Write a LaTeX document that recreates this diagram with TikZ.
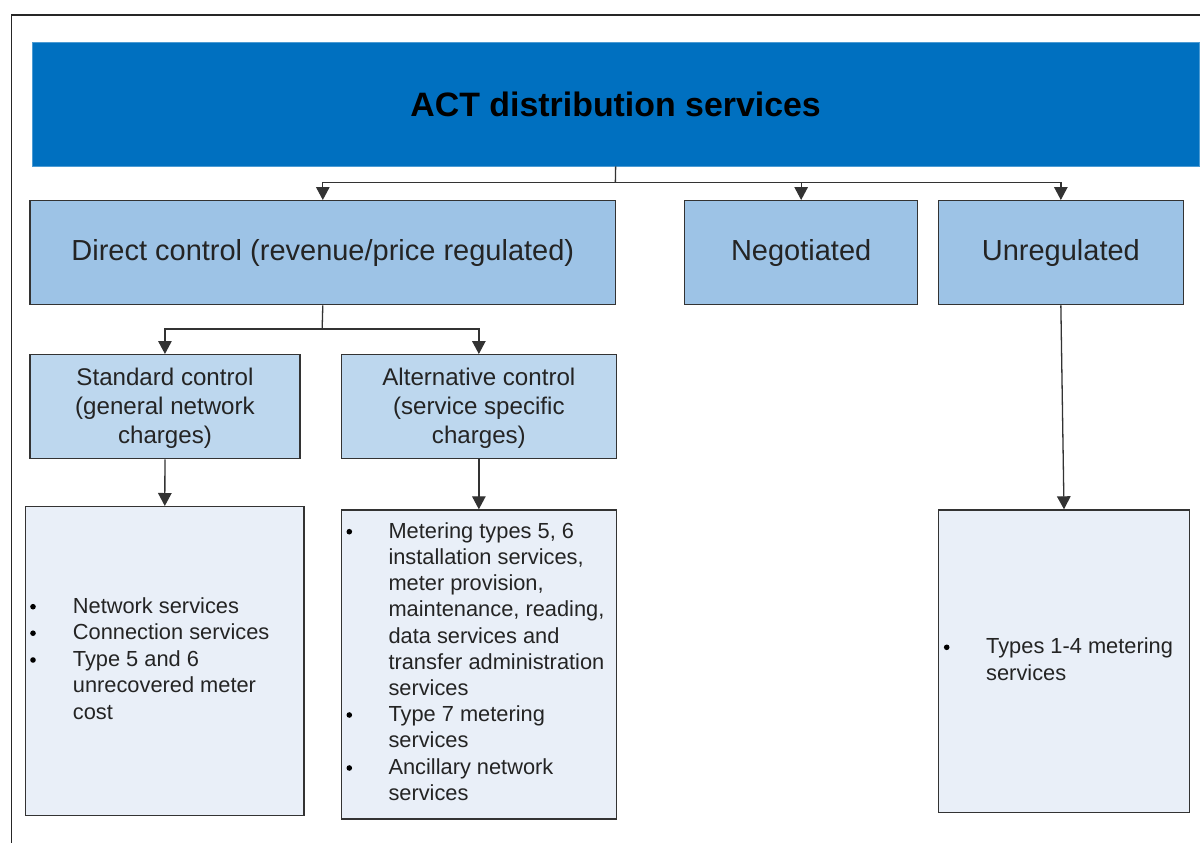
\documentclass[tikz,border=0pt]{standalone}
\usepackage{fontspec}
\setmainfont{Liberation Sans}
\usetikzlibrary{arrows.meta,calc}
\definecolor{topblue}{HTML}{0070C0}
\definecolor{lvltwo}{HTML}{9DC3E6}
\definecolor{lvlthree}{HTML}{BDD7EE}
\definecolor{lvlfour}{HTML}{E9EFF8}
\definecolor{edge}{HTML}{333333}
\definecolor{txt}{HTML}{242424}
\newcommand\fsTitle{\fontsize{34}{40}\selectfont\bfseries}
\newcommand\fsTwo{\fontsize{29.1}{34}\selectfont}
\newcommand\fsThree{\fontsize{24.2}{29}\selectfont}
\newcommand\fsList{\fontsize{21.9}{26.3}\selectfont}
\tikzset{
  box/.style={rectangle, draw=edge, line width=1.3bp, inner sep=0pt, anchor=north west, text=txt},
  conn/.style={draw=edge, line width=1.3bp},
  arr/.style={conn, -{Triangle[width=13.5bp,length=13bp]}},
  item/.style={anchor=north west, inner sep=0pt, align=left, font=\fsList, text=txt},
  bul/.style={circle, fill=black, inner sep=0pt, minimum size=5.6bp},
  midlabel/.style={font=\fsThree, align=center, text=txt, yshift=-2bp, inner sep=0pt},
}
\begin{document}
\begin{tikzpicture}[x=1bp,y=-1bp]
\useasboundingbox (0,0) rectangle (1200,843);
% frame
\draw[line width=1.4bp, black!85] (11.7,843) -- (11.7,15) -- (1200,15);
% top
\node[rectangle, fill=topblue, draw=topblue!70!white, line width=0.6bp, anchor=north west,
      minimum width=1167.3bp, minimum height=124bp, inner sep=0pt, font=\fsTitle, text=black]
      (top) at (31.7,41.7) {ACT distribution services};
% level 2
\node[box, fill=lvltwo, minimum width=585.7bp, minimum height=104bp, font=\fsTwo] (dc) at (29.3,200)
  {Direct control (revenue/price regulated)};
\node[box, fill=lvltwo, minimum width=233bp, minimum height=104bp, font=\fsTwo] (neg) at (684,200)
  {Negotiated};
\node[box, fill=lvltwo, minimum width=245bp, minimum height=104bp, font=\fsTwo] (un) at (937.7,200)
  {Unregulated};
% level 3
\node[box, fill=lvlthree, minimum width=270bp, minimum height=104bp,
      label={[midlabel]center:Standard control\\(general network\\charges)}] (std) at (29.3,354) {};
\node[box, fill=lvlthree, minimum width=275bp, minimum height=104bp,
      label={[midlabel]center:Alternative control\\(service specific\\charges)}] (alt) at (340.7,354) {};
% level 4
\node[box, fill=lvlfour, minimum width=278.3bp, minimum height=309bp] (lb) at (25,506) {};
\node[box, fill=lvlfour, minimum width=275bp, minimum height=309bp] (mb) at (340.7,509.3) {};
\node[box, fill=lvlfour, minimum width=251.3bp, minimum height=302.4bp] (rb) at (937.7,509.3) {};
% connectors
\coordinate (j1) at (615.35,182.3);
\draw[conn] (top.south) -- (j1);
\draw[arr] (j1) -| (dc.north);
\draw[arr] (j1) -| (neg.north);
\draw[arr] (j1) -| (un.north);
\coordinate (j2) at (322.15,329);
\draw[conn] (dc.south) -- (j2);
\draw[arr] (j2) -| (std.north);
\draw[arr] (j2) -| (alt.north);
\draw[arr] (std.south) -- (lb.north);
\draw[arr] (alt.south) -- (mb.north);
\draw[arr] (un.south) -- (rb.north);
% left list
\node[bul] (lb1) at (33,606.7) {};
\node[item] (lt1) at (72.7,594.8) {\strut Network services};
\node[bul] (lb2) at (33,633.2) {};
\node[item] (lt2) at (72.7,621.3) {\strut Connection services};
\node[bul] (lb3) at (33,660) {};
\node[item] (lt3) at (72.7,648.1) {\strut Type 5 and 6\\\strut unrecovered meter\\\strut cost};
% middle list
\node[bul] (mb1) at (349.3,531.7) {};
\node[item] (mt1) at (388.3,519.8) {\strut Metering types 5, 6\\\strut installation services,\\\strut meter provision,\\\strut maintenance, reading,\\\strut data services and\\\strut transfer administration\\\strut services};
\node[bul] (mb2) at (349.3,715) {};
\node[item] (mt2) at (388.3,703.1) {\strut Type 7 metering\\\strut services};
\node[bul] (mb3) at (349.3,768) {};
\node[item] (mt3) at (388.3,756.1) {\strut Ancillary network\\\strut services};
% right list
\node[bul] (rb1) at (946.7,647.3) {};
\node[item] (rt1) at (986,635.4) {\strut Types 1-4 metering\\\strut services};
\end{tikzpicture}
\end{document}
